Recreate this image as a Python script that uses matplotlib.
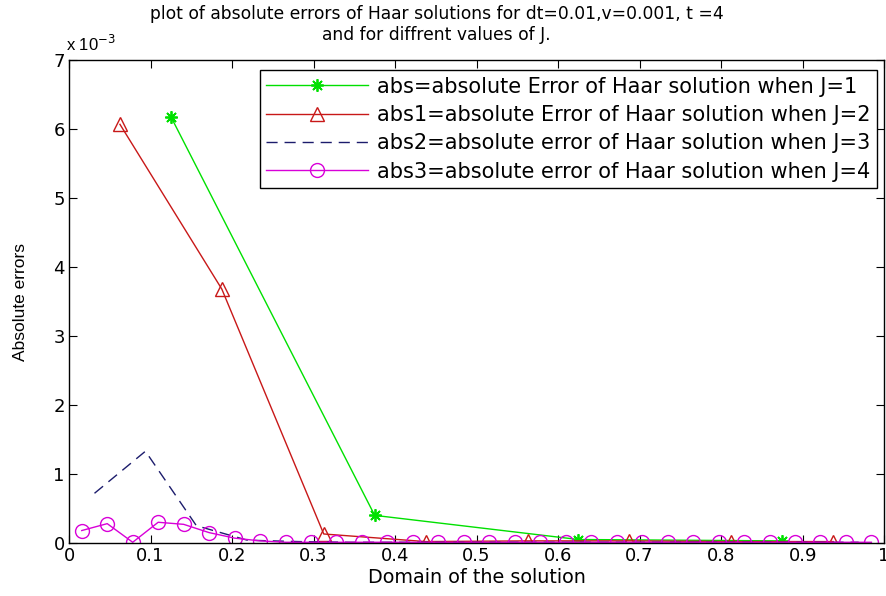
import numpy as np
import matplotlib
matplotlib.use("Agg")
import matplotlib.pyplot as plt
from matplotlib import font_manager

plt.rcParams['font.family'] = ['DejaVu Sans']

# Data (values in units of 1e-3)
x_j1 = [0.125, 0.375, 0.625, 0.875]
abs_j1 = [6.18, 0.40, 0.05, 0.03]

x_j2 = [0.0625, 0.1875, 0.3125, 0.4375, 0.5625, 0.6875, 0.8125, 0.9375]
abs_j2 = [6.07, 3.68, 0.13, 0.02, 0.03, 0.03, 0.02, 0.02]

x_j3 = [0.03125, 0.09375, 0.15625, 0.21875, 0.28125, 0.34375, 0.40625, 0.46875,
        0.53125, 0.59375, 0.65625, 0.71875, 0.78125, 0.84375, 0.90625, 0.96875]
abs_j3 = [0.72, 1.33, 0.25, 0.04, 0.02, 0.01, 0.01, 0.01,
          0.01, 0.01, 0.01, 0.01, 0.01, 0.01, 0.01, 0.01]

x_j4 = [0.015625, 0.046875, 0.078125, 0.109375, 0.140625, 0.171875, 0.203125, 0.234375,
        0.265625, 0.296875, 0.328125, 0.359375, 0.390625, 0.421875, 0.453125, 0.484375,
        0.515625, 0.546875, 0.578125, 0.609375, 0.640625, 0.671875, 0.703125, 0.734375,
        0.765625, 0.796875, 0.828125, 0.859375, 0.890625, 0.921875, 0.953125, 0.984375]
abs_j4 = [0.18, 0.28, 0.01, 0.30, 0.27, 0.15, 0.07, 0.03,
          0.01, 0.01, 0.01, 0.01, 0.01, 0.01, 0.01, 0.01,
          0.01, 0.01, 0.01, 0.01, 0.01, 0.01, 0.01, 0.01,
          0.01, 0.01, 0.01, 0.01, 0.01, 0.01, 0.01, 0.01]

labels = ["abs=absolute Error of Haar solution when J=1",
          "abs1=absolute Error of Haar solution when J=2",
          "abs2=absolute error of Haar solution when J=3",
          "abs3=absolute error of Haar solution when J=4"]

xticks = [0, 0.1, 0.2, 0.3, 0.4, 0.5, 0.6, 0.7, 0.8, 0.9, 1]
xticklabels = ["0", "0.1", "0.2", "0.3", "0.4", "0.5", "0.6", "0.7", "0.8", "0.9", "1"]
yticks = [0, 1, 2, 3, 4, 5, 6, 7]

names = {f.name for f in font_manager.fontManager.ttflist}
narrow = 'Liberation Sans Narrow' if 'Liberation Sans Narrow' in names else 'Liberation Sans'

fig = plt.figure(figsize=(8.86, 5.96), dpi=100)
ax = fig.add_axes([0.0779, 0.089, 0.92, 0.81])

s = 1e-3
ax.plot(x_j1, np.array(abs_j1) * s, color='#00e000', marker=(8, 2, 0), markersize=9,
        markeredgewidth=1.3, lw=1, label=labels[0])
ax.plot(x_j2, np.array(abs_j2) * s, color='#c81818', marker='^', markersize=10,
        markerfacecolor='none', lw=1, label=labels[1])
ax.plot(x_j3, np.array(abs_j3) * s, color='#1c1c6c', ls=(0, (8, 5)), lw=1,
        label=labels[2])
ax.plot(x_j4, np.array(abs_j4) * s, color='#d800d8', marker='o', markersize=10,
        markerfacecolor='none', lw=1, label=labels[3])

ax.set_xlim(0, 1)
ax.set_ylim(0, 7e-3)
ax.set_xticks(xticks)
ax.set_xticklabels(xticklabels)
ax.set_yticks([v * s for v in yticks])
ax.set_yticklabels([str(v) for v in yticks])
ax.tick_params(direction='in', top=True, right=True, labelsize=13, length=6, pad=3)
for sp in ax.spines.values():
    sp.set_linewidth(1)

ax.text(-0.004, 1.012, r'x 10$^{-3}$', transform=ax.transAxes, fontsize=12,
        ha='left', va='bottom', family=[narrow, 'DejaVu Sans'])

ax.set_xlabel("Domain of the solution", fontsize=13.8, labelpad=2)
ax.set_ylabel("Absolute errors", fontsize=12.5, labelpad=18,
              family=['Liberation Sans', 'DejaVu Sans'])
fig.text(0.493, 0.992,
         "plot of absolute errors of Haar solutions for dt=0.01,v=0.001, t =4\n"
         "and for diffrent values of J.", fontsize=12.3, ha='center', va='top',
         linespacing=1.25)

leg = ax.legend(loc='upper right', bbox_to_anchor=(0.9914, 0.979), borderaxespad=0,
                fontsize=15, frameon=True, fancybox=False,
                edgecolor='black', framealpha=1,
                handlelength=4.9, handletextpad=0.45, labelspacing=0.4, borderpad=0.3)
leg.get_frame().set_linewidth(1)

fig.savefig("out.png", dpi=100)
